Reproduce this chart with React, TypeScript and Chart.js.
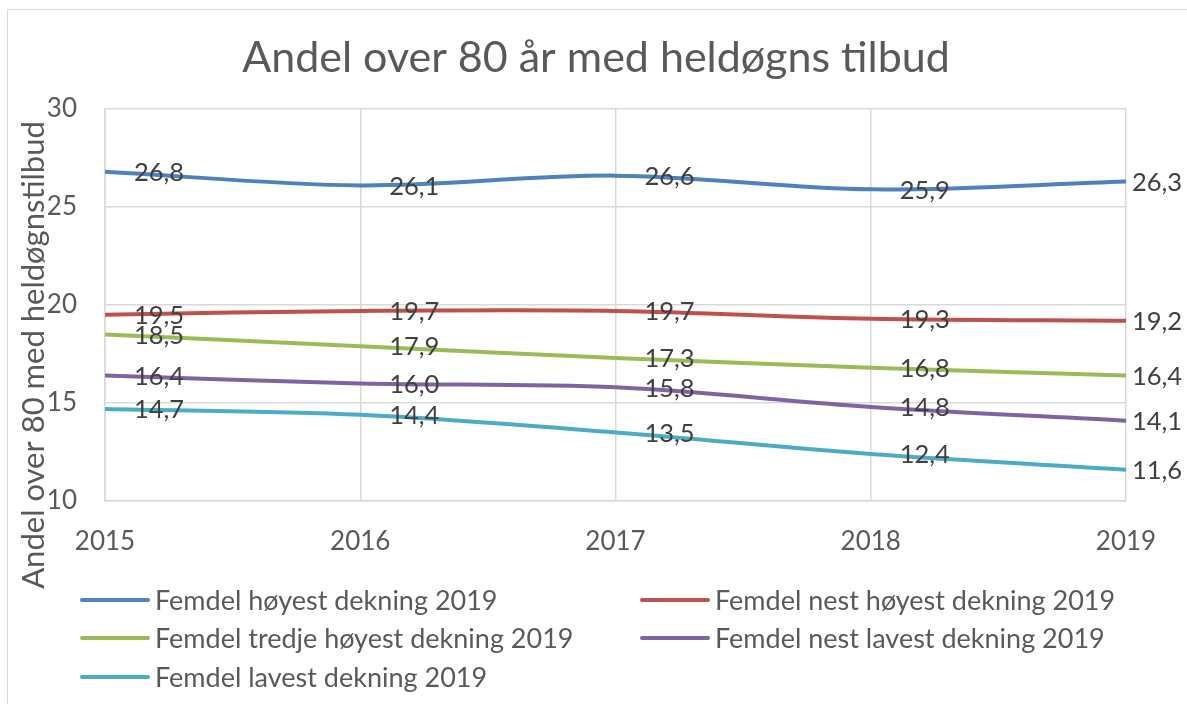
import React, { useEffect, useRef } from "react";
import { Chart, registerables } from "chart.js";

Chart.register(...registerables);

const years = ["2015", "2016", "2017", "2018", "2019"];
const seriesNames = [
  "Femdel høyest dekning 2019",
  "Femdel nest høyest dekning 2019",
  "Femdel tredje høyest dekning 2019",
  "Femdel nest lavest dekning 2019",
  "Femdel lavest dekning 2019",
];
const hoyest = [26.8, 26.1, 26.6, 25.9, 26.3];
const nestHoyest = [19.5, 19.7, 19.7, 19.3, 19.2];
const tredjeHoyest = [18.5, 17.9, 17.3, 16.8, 16.4];
const nestLavest = [16.4, 16.0, 15.8, 14.8, 14.1];
const lavest = [14.7, 14.4, 13.5, 12.4, 11.6];
const colors = ["#4F81BD", "#C0504D", "#9BBB59", "#8064A2", "#4BACC6"];
const yTicks = [10, 15, 20, 25, 30];
const title = "Andel over 80 år med heldøgns tilbud";
const yTitle = "Andel over 80 med heldøgnstilbud";

const FONT = "Lato, 'Open Sans', sans-serif";

const labelPlugin = {
  id: "customText",
  afterDatasetsDraw(chart: any) {
    const ctx = chart.ctx;
    ctx.save();
    ctx.font = `25.5px ${FONT}`;
    ctx.fillStyle = "#404040";
    ctx.textAlign = "left";
    ctx.textBaseline = "middle";
    chart.data.datasets.forEach((ds: any, i: number) => {
      const meta = chart.getDatasetMeta(i);
      meta.data.forEach((pt: any, j: number) => {
        const v = ds.data[j] as number;
        const off = j === ds.data.length - 1 ? 6 : 29;
        ctx.fillText(v.toFixed(1).replace(".", ","), pt.x + off, pt.y + 1);
      });
    });
    // title
    ctx.font = `43px ${FONT}`;
    ctx.fillStyle = "#595959";
    ctx.textAlign = "center";
    ctx.fillText(title, 596, 58);
    // y axis title
    ctx.translate(34, 355);
    ctx.rotate(-Math.PI / 2);
    ctx.font = `31px ${FONT}`;
    ctx.fillText(yTitle, 0, 0);
    ctx.restore();
  },
};

export default function App() {
  const ref = useRef<HTMLCanvasElement | null>(null);
  useEffect(() => {
    if (!ref.current) return;
    const all = [hoyest, nestHoyest, tredjeHoyest, nestLavest, lavest];
    const chart = new Chart(ref.current, {
      type: "line",
      data: {
        labels: years,
        datasets: all.map((d, i) => ({
          label: seriesNames[i],
          data: d,
          borderColor: colors[i],
          backgroundColor: colors[i],
          borderWidth: 4,
          pointRadius: 0,
          tension: 0.33,
          fill: false,
        })),
      },
      options: {
        animation: false,
        responsive: false,
        maintainAspectRatio: false,
        layout: { padding: { left: 0, top: 109, right: 61, bottom: 0 } },
        plugins: {
          legend: { display: false },
          tooltip: { enabled: false },
          title: { display: false },
        },
        scales: {
          x: {
            type: "category",
            offset: false,
            grid: { color: "#D9D9D9", lineWidth: 1.5, drawTicks: false },
            border: { color: "#D9D9D9", width: 1.5 },
            ticks: {
              color: "#595959",
              font: { family: FONT, size: 26 },
              padding: 25,
              maxRotation: 0,
            },
            afterFit: (s: any) => {
              s.height = 203;
            },
          },
          y: {
            min: 10,
            max: 30,
            afterBuildTicks: (s: any) => {
              s.ticks = yTicks.map((v) => ({ value: v }));
            },
            grid: { color: "#D9D9D9", lineWidth: 1.5, drawTicks: false },
            border: { color: "#D9D9D9", width: 1.5 },
            ticks: {
              color: "#595959",
              font: { family: FONT, size: 26 },
              padding: 28,
            },
            afterFit: (s: any) => {
              s.width = 105;
            },
          },
        },
      },
      plugins: [labelPlugin],
    });
    return () => chart.destroy();
  }, []);

  const legendItems = [
    { i: 0, x: 80, y: 600 },
    { i: 1, x: 640, y: 600 },
    { i: 2, x: 80, y: 638 },
    { i: 3, x: 640, y: 638 },
    { i: 4, x: 80, y: 677 },
  ];

  return (
    <div
      style={{
        position: "fixed",
        left: 0,
        top: 0,
        width: 1187,
        height: 704,
        background: "#fff",
        overflow: "hidden",
        fontFamily: FONT,
      }}
    >
      <div
        style={{
          position: "absolute",
          left: 7,
          top: 9,
          width: 1200,
          height: 720,
          border: "1.5px solid #D9D9D9",
          boxSizing: "border-box",
        }}
      />
      <canvas ref={ref} width={1187} height={704} style={{ position: "absolute", left: 0, top: 0 }} />
      {legendItems.map((it) => (
        <div
          key={it.i}
          style={{
            position: "absolute",
            left: it.x,
            top: it.y - 18,
            height: 36,
            display: "flex",
            alignItems: "center",
            whiteSpace: "nowrap",
          }}
        >
          <div style={{ width: 70, height: 4, background: colors[it.i], borderRadius: 2 }} />
          <span style={{ marginLeft: 5, fontSize: 27, color: "#595959", lineHeight: "36px" }}>
            {seriesNames[it.i]}
          </span>
        </div>
      ))}
    </div>
  );
}
